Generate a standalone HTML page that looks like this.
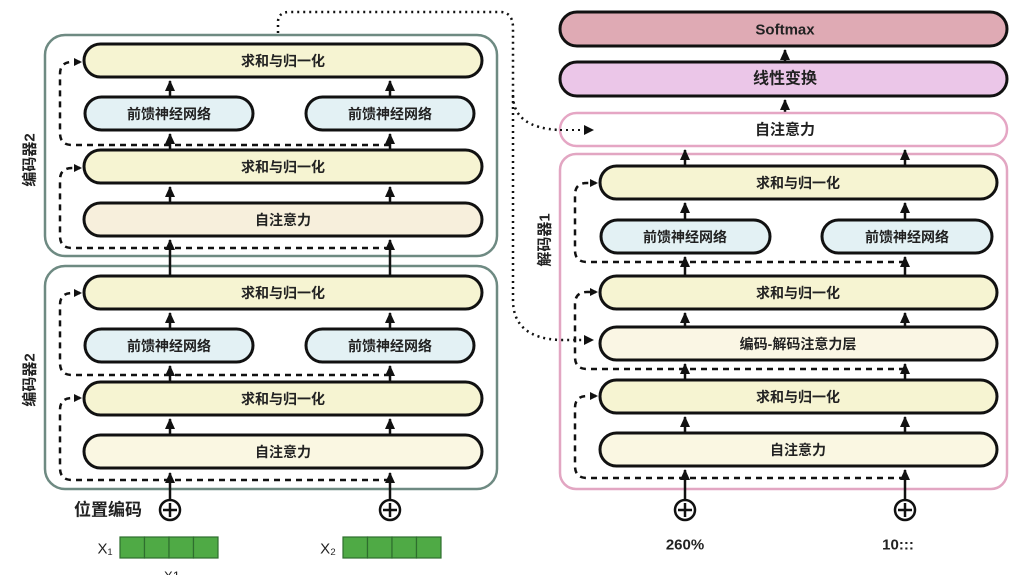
<!DOCTYPE html>
<html><head><meta charset="utf-8"><style>
body{margin:0;background:#fff;}
text{font-family:"Liberation Sans","Noto Sans CJK SC",sans-serif;font-size:14px;font-weight:bold;fill:#222;text-anchor:middle;dominant-baseline:central}
</style></head><body>
<svg width="1034" height="575" viewBox="0 0 1034 575" xmlns="http://www.w3.org/2000/svg">
<defs>
<marker id="a" markerWidth="8" markerHeight="8" refX="6" refY="4" orient="auto" markerUnits="userSpaceOnUse"><path d="M0,0 L8,4 L0,8 z" fill="#111"/></marker>
<marker id="u" markerWidth="12" markerHeight="10" refX="10" refY="5" orient="auto" markerUnits="userSpaceOnUse"><path d="M0,0 L11,5 L0,10 z" fill="#111"/></marker>
</defs>
<g fill="none" stroke-linecap="round">
<rect x="45" y="35" width="452" height="221" rx="20" stroke="#6e8a82" stroke-width="2.5"/>
<rect x="45" y="266" width="452" height="223" rx="20" stroke="#6e8a82" stroke-width="2.5"/>
<rect x="560" y="154" width="447" height="335" rx="16" stroke="#e2a6c2" stroke-width="2.5"/>
</g>
<g stroke="#111" stroke-width="2.5" fill="none">
<line x1="170" y1="500" x2="170" y2="473" marker-end="url(#u)"/><line x1="390" y1="500" x2="390" y2="473" marker-end="url(#u)"/>
<line x1="170" y1="435" x2="170" y2="419" marker-end="url(#u)"/><line x1="390" y1="435" x2="390" y2="419" marker-end="url(#u)"/>
<line x1="170" y1="382" x2="170" y2="366" marker-end="url(#u)"/><line x1="390" y1="382" x2="390" y2="366" marker-end="url(#u)"/>
<line x1="170" y1="329" x2="170" y2="313" marker-end="url(#u)"/><line x1="390" y1="329" x2="390" y2="313" marker-end="url(#u)"/>
<line x1="170" y1="276" x2="170" y2="240" marker-end="url(#u)"/><line x1="390" y1="276" x2="390" y2="240" marker-end="url(#u)"/>
<line x1="170" y1="203" x2="170" y2="187" marker-end="url(#u)"/><line x1="390" y1="203" x2="390" y2="187" marker-end="url(#u)"/>
<line x1="170" y1="150" x2="170" y2="134" marker-end="url(#u)"/><line x1="390" y1="150" x2="390" y2="134" marker-end="url(#u)"/>
<line x1="170" y1="97" x2="170" y2="81" marker-end="url(#u)"/><line x1="390" y1="97" x2="390" y2="81" marker-end="url(#u)"/>
<line x1="685" y1="500" x2="685" y2="470" marker-end="url(#u)"/><line x1="905" y1="500" x2="905" y2="470" marker-end="url(#u)"/>
<line x1="685" y1="433" x2="685" y2="417" marker-end="url(#u)"/><line x1="905" y1="433" x2="905" y2="417" marker-end="url(#u)"/>
<line x1="685" y1="380" x2="685" y2="364" marker-end="url(#u)"/><line x1="905" y1="380" x2="905" y2="364" marker-end="url(#u)"/>
<line x1="685" y1="327" x2="685" y2="313" marker-end="url(#u)"/><line x1="905" y1="327" x2="905" y2="313" marker-end="url(#u)"/>
<line x1="685" y1="276" x2="685" y2="257" marker-end="url(#u)"/><line x1="905" y1="276" x2="905" y2="257" marker-end="url(#u)"/>
<line x1="685" y1="220" x2="685" y2="203" marker-end="url(#u)"/><line x1="905" y1="220" x2="905" y2="203" marker-end="url(#u)"/>
<line x1="685" y1="166" x2="685" y2="150" marker-end="url(#u)"/><line x1="905" y1="166" x2="905" y2="150" marker-end="url(#u)"/>
<line x1="785" y1="113" x2="785" y2="100" marker-end="url(#u)"/>
<line x1="785" y1="62" x2="785" y2="50" marker-end="url(#u)"/>
</g>
<g stroke="#111" stroke-width="2.5" fill="none" stroke-dasharray="6,5">
<path d="M390,248 H72 Q60,248 60,236 V180 Q60,168 72,168 H80" marker-end="url(#a)"/>
<path d="M390,145 H72 Q60,145 60,133 V74 Q60,62 72,62 H80" marker-end="url(#a)"/>
<path d="M390,480 H72 Q60,480 60,468 V410 Q60,398 72,398 H80" marker-end="url(#a)"/>
<path d="M390,375 H72 Q60,375 60,363 V305 Q60,293 72,293 H80" marker-end="url(#a)"/>
<path d="M905,478 H587 Q575,478 575,466 V408 Q575,396 587,396 H596" marker-end="url(#a)"/>
<path d="M905,369 H587 Q575,369 575,357 V304 Q575,292 587,292 H596" marker-end="url(#a)"/>
<path d="M905,262 H587 Q575,262 575,250 V195 Q575,183 587,183 H596" marker-end="url(#a)"/>
</g>
<g stroke="#111" stroke-width="2.5" fill="none" stroke-dasharray="2,4">
<path d="M278,33 V22 Q278,12 290,12 H500 Q513,12 513,28 V95 Q513,128 560,130 H584"/>
<path d="M513,95 V300 Q513,338 560,340 H584"/>
</g>
<g stroke="#111" stroke-width="3">
<rect x="84" y="44" width="398" height="33" rx="16.5" fill="#f6f4d2"/>
<rect x="85" y="97" width="168" height="33" rx="16.5" fill="#e3f1f4"/>
<rect x="306" y="97" width="168" height="33" rx="16.5" fill="#e3f1f4"/>
<rect x="84" y="150" width="398" height="33" rx="16.5" fill="#f6f4d2"/>
<rect x="84" y="203" width="398" height="33" rx="16.5" fill="#f7efdc"/>
<rect x="84" y="276" width="398" height="33" rx="16.5" fill="#f6f4d2"/>
<rect x="85" y="329" width="168" height="33" rx="16.5" fill="#e3f1f4"/>
<rect x="306" y="329" width="168" height="33" rx="16.5" fill="#e3f1f4"/>
<rect x="84" y="382" width="398" height="33" rx="16.5" fill="#f6f4d2"/>
<rect x="84" y="435" width="398" height="33" rx="16.5" fill="#faf7e2"/>
<rect x="560" y="12" width="447" height="34" rx="17" fill="#dfaab4"/>
<rect x="560" y="62" width="447" height="34" rx="17" fill="#ebc6e8"/>
<rect x="600" y="166" width="397" height="33" rx="16.5" fill="#f6f4d2"/>
<rect x="601" y="220" width="169" height="33" rx="16.5" fill="#e3f1f4"/>
<rect x="822" y="220" width="170" height="33" rx="16.5" fill="#e3f1f4"/>
<rect x="600" y="276" width="397" height="33" rx="16.5" fill="#f6f4d2"/>
<rect x="600" y="327" width="397" height="33" rx="16.5" fill="#faf6e4"/>
<rect x="600" y="380" width="397" height="33" rx="16.5" fill="#f6f4d2"/>
<rect x="600" y="433" width="397" height="33" rx="16.5" fill="#faf7e2"/>
</g>
<rect x="560" y="113" width="447" height="33" rx="16.5" fill="#fff" stroke="#e5a6c4" stroke-width="2.5"/>
<g stroke="#111" stroke-width="2" stroke-dasharray="2,4" fill="none"><path d="M560,130 H584"/></g>
<path d="M584,125 L594,130 L584,135 z M584,335 L594,340 L584,345 z" fill="#111"/>
<g stroke="#111" stroke-width="2.5" fill="#fff">
<circle cx="170" cy="510" r="10"/><circle cx="390" cy="510" r="10"/><circle cx="685" cy="510" r="10"/><circle cx="905" cy="510" r="10"/>
<path d="M163,510h14M170,503v14M383,510h14M390,503v14M678,510h14M685,503v14M898,510h14M905,503v14"/>
</g>
<g stroke="#2e6e2e" stroke-width="1.2" fill="#4faa45">
<rect x="120" y="537" width="24.5" height="21"/><rect x="144.5" y="537" width="24.5" height="21"/><rect x="169" y="537" width="24.5" height="21"/><rect x="193.5" y="537" width="24.5" height="21"/>
<rect x="343" y="537" width="24.5" height="21"/><rect x="367.5" y="537" width="24.5" height="21"/><rect x="392" y="537" width="24.5" height="21"/><rect x="416.5" y="537" width="24.5" height="21"/>
</g>
<text x="283" y="61">求和与归一化</text>
<text x="169" y="114">前馈神经网络</text><text x="390" y="114">前馈神经网络</text>
<text x="283" y="167">求和与归一化</text>
<text x="283" y="220">自注意力</text>
<text x="283" y="293">求和与归一化</text>
<text x="169" y="346">前馈神经网络</text><text x="390" y="346">前馈神经网络</text>
<text x="283" y="399">求和与归一化</text>
<text x="283" y="452">自注意力</text>
<text x="785" y="30" style="font-size:15px">Softmax</text>
<text x="785" y="79" style="font-size:16px">线性变换</text>
<text x="785" y="130" style="font-size:15px">自注意力</text>
<text x="798" y="183">求和与归一化</text>
<text x="685" y="237">前馈神经网络</text><text x="907" y="237">前馈神经网络</text>
<text x="798" y="293">求和与归一化</text>
<text x="798" y="344">编码-解码注意力层</text>
<text x="798" y="397">求和与归一化</text>
<text x="798" y="450">自注意力</text>
<text x="108" y="510" style="font-size:17px">位置编码</text>
<text x="105" y="549" style="font-weight:normal;font-size:15px">X₁</text>
<text x="328" y="549" style="font-weight:normal;font-size:15px">X₂</text>
<text x="172" y="576" style="font-weight:normal;font-size:13px">X1</text>
<text x="685" y="545" style="font-size:15px">260%</text>
<text x="898" y="545" style="font-size:15px">10:::</text>
<text transform="translate(30,160) rotate(-90)" style="font-size:15px">编码器2</text>
<text transform="translate(30,380) rotate(-90)" style="font-size:15px">编码器2</text>
<text transform="translate(545,240) rotate(-90)" style="font-size:15px">解码器1</text>
</svg>
</body></html>
